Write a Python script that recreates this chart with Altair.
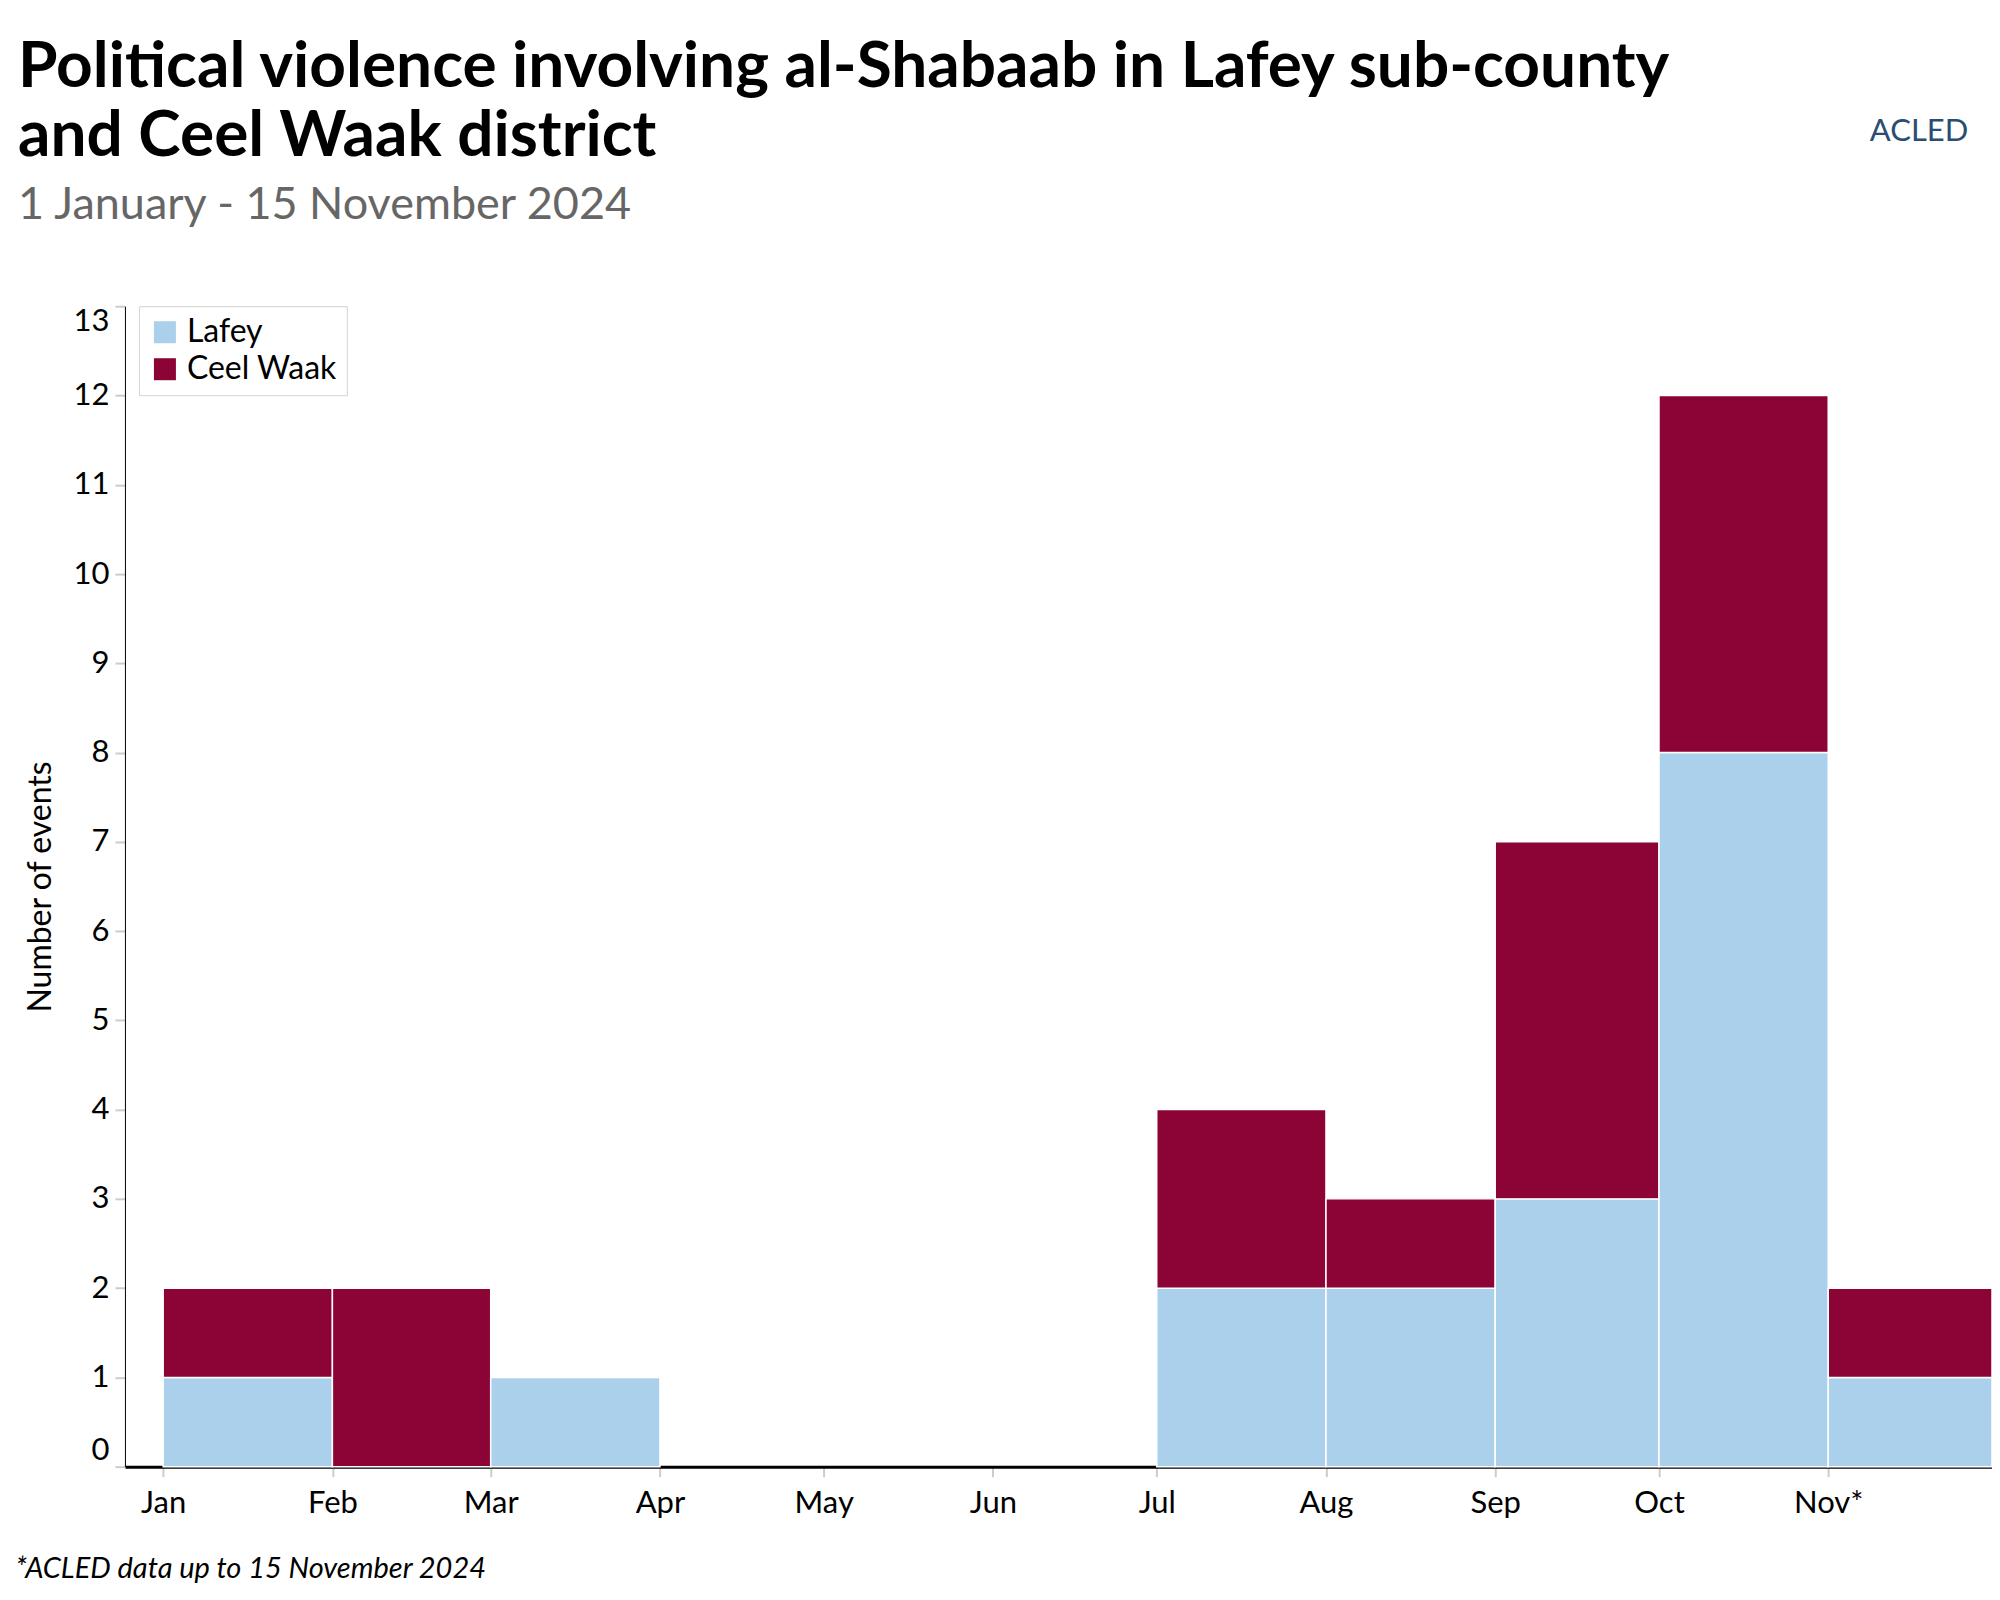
import altair as alt
import pandas as pd

# ---- data ----
month_starts = ["2024-01-01", "2024-02-01", "2024-03-01", "2024-04-01", "2024-05-01",
                "2024-06-01", "2024-07-01", "2024-08-01", "2024-09-01", "2024-10-01",
                "2024-11-01"]
month_ends = ["2024-02-01", "2024-03-01", "2024-04-01", "2024-05-01", "2024-06-01",
              "2024-07-01", "2024-08-01", "2024-09-01", "2024-10-01", "2024-11-01",
              "2024-12-01"]
lafey = [1, 0, 1, 0, 0, 0, 2, 2, 3, 8, 1]
ceel_waak = [1, 2, 0, 0, 0, 0, 2, 1, 4, 4, 1]
regions = ["Lafey", "Ceel Waak"]
colors = ["#abd0ec", "#8c0335"]

rows = []
for s, e, a, b in zip(month_starts, month_ends, lafey, ceel_waak):
    if a > 0:
        rows.append({"start": s + "T00:00:00", "end": e + "T00:00:00", "region": "Lafey", "y0": 0, "y1": a})
    if b > 0:
        rows.append({"start": s + "T00:00:00", "end": e + "T00:00:00", "region": "Ceel Waak", "y0": a, "y1": a + b})
df = pd.DataFrame(rows)

FONT = "Lato"

x_values = [alt.DateTime(year=2024, month=m, date=1) for m in range(1, 12)]

bars = alt.Chart(df).mark_bar(stroke="white", strokeWidth=1.5).encode(
    x=alt.X(
        "start:T",
        scale=alt.Scale(domain=[alt.DateTime(year=2023, month=12, date=25),
                                alt.DateTime(year=2024, month=12, date=1)]),
        axis=alt.Axis(
            values=x_values,
            labelExpr="month(datum.value) == 10 ? 'Nov*' : timeFormat(datum.value, '%b')",
            grid=False,
            tickColor="#cccccc", tickSize=10, tickWidth=2,
            domainColor="black", domainWidth=3,
            labelFont=FONT, labelFontSize=31, labelColor="black", labelPadding=12,
            title="*ACLED data up to 15 November 2024",
            titleFont=FONT, titleFontSize=29, titleFontStyle="italic", titleFontWeight="normal",
            titleColor="black", titleAnchor="start", titleAlign="left",
            titleBaseline="alphabetic", titleX=-110, titleY=111,
        ),
    ),
    x2="end:T",
    y=alt.Y(
        "y1:Q",
        scale=alt.Scale(domain=[0, 13], nice=False),
        axis=alt.Axis(
            values=list(range(0, 14)),
            labelFlush=True,
            grid=False,
            tickColor="#cccccc", tickSize=10, tickWidth=2,
            domainColor="black", domainWidth=1,
            labelFont=FONT, labelFontSize=31, labelColor="black", labelPadding=6,
            title="Number of events",
            titleFont=FONT, titleFontSize=32, titleFontWeight="normal", titleColor="black",
            titlePadding=16,
        ),
    ),
    y2="y0:Q",
    color=alt.Color(
        "region:N",
        scale=alt.Scale(domain=regions, range=colors),
        legend=alt.Legend(
            title=None, orient="none", legendX=14, legendY=0,
            strokeColor="#d3d3d3", fillColor="white", padding=10,
            symbolType="square", symbolSize=484, symbolStrokeWidth=0,
            labelFont=FONT, labelFontSize=32, labelColor="black", labelOffset=6,
            rowPadding=5,
        ),
    ),
)

logo = alt.Chart(pd.DataFrame({"t": ["ACLED"]})).mark_text(
    font=FONT, fontSize=31, color="#2b4d73", fontWeight="normal", baseline="middle", align="center"
).encode(
    x=alt.value(1795), y=alt.value(-174), text="t:N"
)

chart = alt.layer(bars, logo).properties(
    width=1868,
    height=1161,
    background="white",
    autosize=alt.AutoSizeParams(type="none"),
    padding={"left": 117, "top": 298, "right": 0, "bottom": 120},
    title=alt.TitleParams(
        text=["Political violence involving al-Shabaab in Lafey sub-county", "and Ceel Waak district"],
        subtitle="1 January - 15 November 2024",
        anchor="start", frame="group",
        font=FONT, fontSize=64, fontWeight="bold", color="black", lineHeight=69,
        subtitleFont=FONT, subtitleFontSize=45, subtitleColor="#666666", subtitlePadding=14,
        dx=-107, dy=192, offset=80,
    ),
).configure_view(stroke=None, strokeWidth=0)

chart.save("out.html", embed_options={"renderer": "svg", "actions": False})
